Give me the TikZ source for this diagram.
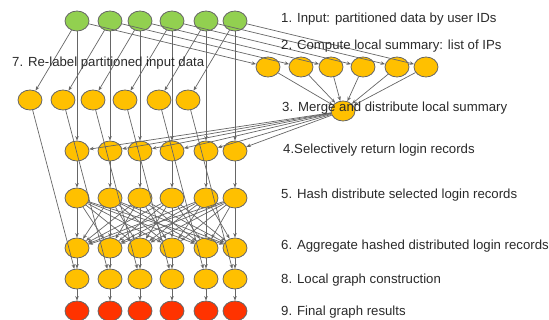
\documentclass[tikz,border=0pt]{standalone}
\usepackage{fontspec}
\setmainfont{Liberation Sans}
\usetikzlibrary{shapes.geometric,arrows.meta}
\definecolor{gnode}{HTML}{92D050}
\definecolor{onode}{HTML}{FFC000}
\definecolor{rnode}{HTML}{FF3300}
\definecolor{edgec}{HTML}{666666}
\definecolor{txtc}{HTML}{2A2A2A}
\tikzset{
  proc/.style={ellipse,draw=edgec,line width=0.8pt,minimum width=24pt,minimum height=20pt,inner sep=0pt},
  gproc/.style={proc,fill=gnode},
  oproc/.style={proc,fill=onode},
  rproc/.style={proc,fill=rnode},
  conn/.style={draw=edgec,line width=0.7pt,-{Stealth[length=4.5pt,width=3.5pt]}},
  lbl/.style={anchor=west,inner sep=0pt,text=txtc,font=\fontsize{13.2}{15}\selectfont}
}
\begin{document}
\begin{tikzpicture}[x=1pt,y=-1pt]
\useasboundingbox (0,0) rectangle (549,320);
\foreach \x [count=\i] in {77,110,140,172,206,235} {
  \node[gproc] (g\i) at (\x,21) {};
  \node[oproc] (s\i) at (\x,151) {};
  \node[oproc] (h\i) at (\x,198) {};
  \node[oproc] (a\i) at (\x,248) {};
  \node[oproc] (l\i) at (\x,279) {};
  \node[rproc] (f\i) at (\x,311) {};
}
\foreach \x [count=\i] in {30,63,93,125,159,188} {
  \node[oproc] (r\i) at (\x,100) {};
}
\foreach \x [count=\i] in {268,301,331,363,397,426} {
  \node[oproc] (c\i) at (\x,67) {};
}
\node[oproc] (m) at (343,111) {};
% edges
\foreach \i in {1,...,6} {
  \draw[conn] (g\i) -- (r\i);
  \draw[conn] (g\i) -- (c\i);
  \draw[conn] (g\i) -- (s\i);
  \draw[conn] (c\i) -- (m);
  \draw[conn] (m) -- (s\i);
  \draw[conn] (s\i) -- (h\i);
  \foreach \j in {1,...,6} { \draw[conn] (h\i) -- (a\j); }
  \draw[conn] (a\i) -- (l\i);
  \draw[conn] (l\i) -- (f\i);
  \draw[conn] (r\i) -- (l\i);
}
% labels
\node[lbl] (t1) at (281,19) {1. Input: partitioned data by user IDs};
\node[lbl] (t2) at (281,46) {2. Compute local summary: list of IPs};
\node[lbl] (t3) at (282,108) {3. Merge and distribute local summary};
\node[lbl] (t4) at (283,150) {4.Selectively return login records};
\node[lbl] (t5) at (281,195) {5. Hash distribute selected login records};
\node[lbl] (t6) at (281,246) {6. Aggregate hashed distributed login records};
\node[lbl] (t7) at (12,63) {7. Re-label partitioned input data};
\node[lbl] (t8) at (281,280) {8. Local graph construction};
\node[lbl] (t9) at (281,312) {9. Final graph results};
\end{tikzpicture}
\end{document}
